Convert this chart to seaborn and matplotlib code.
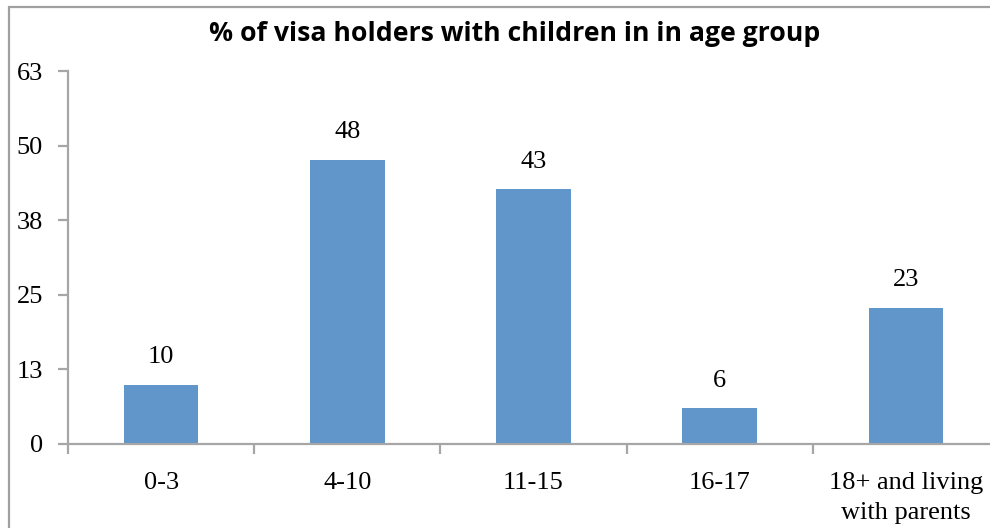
import matplotlib
matplotlib.use("Agg")
import matplotlib.pyplot as plt
import seaborn as sns
import pandas as pd
import numpy as np
from matplotlib.patches import Rectangle

categories = ["0-3", "4-10", "11-15", "16-17", "18+ and living\nwith parents"]
values = [10, 48, 43, 6, 23]
ytick_values = [0, 12.6, 25.2, 37.8, 50.4, 63]
ytick_labels = ["0", "13", "25", "38", "50", "63"]
title = "% of visa holders with children in in age group"

sns.set_theme(style="white")
plt.rcParams['font.family'] = ['Liberation Serif', 'DejaVu Serif']
plt.rcParams['text.color'] = 'black'

df = pd.DataFrame({"cat": categories, "val": values})

fig = plt.figure(figsize=(9.9, 5.28), dpi=100)
ax = fig.add_axes([68/990, 1-444/528, (999-68)/990, (444-71)/528])

sns.barplot(data=df, x="cat", y="val", color="#6096CA", width=0.40,
            saturation=1, ax=ax, edgecolor="none")

ax.set_xlim(-0.5, 4.5)
ax.set_ylim(0, 63)
ax.set_xlabel("")
ax.set_ylabel("")

axis_col = "#A6A6A6"
for s in ["top", "right"]:
    ax.spines[s].set_visible(False)
for s in ["left", "bottom"]:
    ax.spines[s].set_color(axis_col)
    ax.spines[s].set_linewidth(1.6)

fs = 19
ax.set_yticks(ytick_values)
ax.set_yticklabels(ytick_labels)
ax.tick_params(axis="y", direction="out", length=7, width=1.6, color=axis_col,
               pad=11, labelsize=fs, labelcolor="black", left=True)

ax.set_xticks(np.arange(-0.5, 5, 1.0))
ax.set_xticklabels([])
ax.set_xticks(np.arange(len(categories)), minor=True)
ax.set_xticklabels(categories, minor=True, linespacing=1.5)
ax.tick_params(axis="x", which="major", direction="out", length=7, width=1.6,
               color=axis_col, bottom=True)
ax.tick_params(axis="x", which="minor", length=0, pad=20, labelsize=fs,
               labelcolor="black")

for i, v in enumerate(values):
    ax.annotate(str(v), (i, v), xytext=(0, 12), textcoords="offset points",
                ha="center", va="bottom", fontsize=fs, color="black")

fig.text(515/990, 1-34/528, title, ha="center", va="center", color="black",
         fontsize=19.2, fontweight="bold", family=["Open Sans", "DejaVu Sans"])

fig.patches.append(Rectangle((9/990, -0.1), 1.2, 1-7/528+0.1,
                             transform=fig.transFigure, fill=False,
                             edgecolor="#A0A0A0", linewidth=1.6))

fig.savefig("out.png", dpi=100)
